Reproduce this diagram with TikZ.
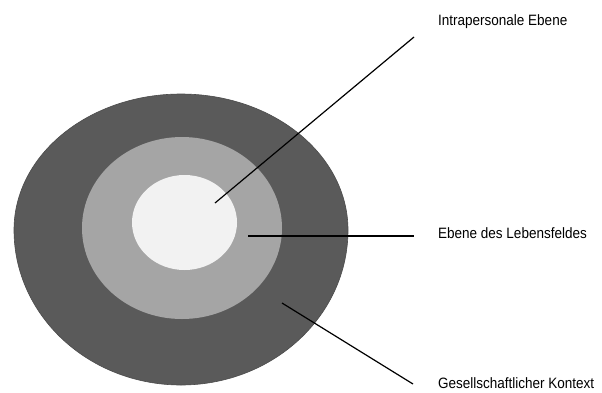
\documentclass[tikz,border=0pt]{standalone}
\usepackage{fontspec}
\setmainfont[FakeStretch=0.9]{Liberation Sans}
\usetikzlibrary{shapes.geometric}
\begin{document}
\begin{tikzpicture}[x=1pt,y=-1pt,
  lbl/.style={anchor=west,inner sep=0pt,font=\fontsize{15}{18}\selectfont},
  conn/.style={draw=black,line width=1.2pt}]
\useasboundingbox (0,0) rectangle (602,392);
% outer ring (slightly irregular)
\fill[fill={rgb,255:red,90;green,90;blue,90},draw={rgb,255:red,75;green,75;blue,75},line width=0.6pt]
  (14,230) arc[start angle=180,end angle=0,x radius=167,y radius=155]
  arc[start angle=0,end angle=-180,x radius=167,y radius=136] -- cycle;
\node[ellipse,minimum width=200pt,minimum height=182pt,inner sep=0pt,
  fill={rgb,255:red,165;green,165;blue,165}] (mid) at (182,228) {};
\node[ellipse,minimum width=105pt,minimum height=95pt,inner sep=0pt,
  fill={rgb,255:red,242;green,242;blue,242}] (inner) at (184.5,222.5) {};
\coordinate (p1) at (215,203);
\coordinate (q1) at (414,37);
\coordinate (p2) at (248,236);
\coordinate (q2) at (414,236);
\coordinate (p3) at (282,303);
\coordinate (q3) at (413,384);
\node[lbl] (l1) at (438,22) {Intrapersonale Ebene};
\node[lbl] (l2) at (438,233) {Ebene des Lebensfeldes};
\node[lbl] (l3) at (438,383) {Gesellschaftlicher Kontext};
\draw[conn] (p1) -- (q1);
\draw[conn] (p2) -- (q2);
\draw[conn] (p3) -- (q3);
\end{tikzpicture}
\end{document}
